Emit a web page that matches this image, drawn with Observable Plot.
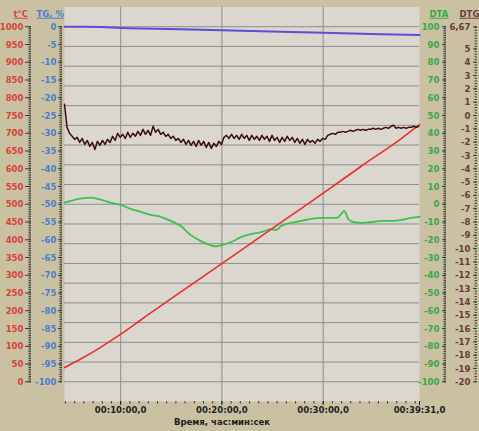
<!DOCTYPE html>
<html><head><meta charset="utf-8">
<script src="https://cdn.jsdelivr.net/npm/d3@7"></script>
<script src="https://cdn.jsdelivr.net/npm/@observablehq/plot@0.6"></script>
<style>body{margin:0;background:#cac1a3;}</style>
</head><body><div id="chart"></div>
<script>
// ---- tick labels ----
const tempTicks = [1000,950,900,850,800,750,700,650,600,550,500,450,400,350,300,250,200,150,100,50,0];
const tgTicks = [0,-5,-10,-15,-20,-25,-30,-35,-40,-45,-50,-55,-60,-65,-70,-75,-80,-85,-90,-95,-100];
const dtaTicks = [100,90,80,70,60,50,40,30,20,10,0,-10,-20,-30,-40,-50,-60,-70,-80,-90,-100];
const dtgTicks = [6.67,5,4,3,2,1,0,-1,-2,-3,-4,-5,-6,-7,-8,-9,-10,-11,-12,-13,-14,-15,-16,-17,-18,-19,-20];
const timeTicks = [10, 20, 30, 39 + 31/60]; // minutes
const timeGrid = [10, 20, 30];

// ---- series (time in minutes) ----
const tempTime  = [4.45, 6.04, 8.02, 10.0, 11.98, 13.96, 17.92, 21.88, 25.84, 29.8, 33.76, 37.72, 39.52];
const tempValue = [40, 64, 97, 134, 174, 214, 292, 370, 449, 527, 607, 685, 724];

const tgTime  = [4.45, 6.5, 8.02, 10.7, 15.95, 20.0, 25.85, 30.0, 35.75, 39.52];
const tgValue = [0, 0, -0.1, -0.4, -0.7, -1.0, -1.4, -1.7, -2.1, -2.3];

const dtaTime  = [4.45,5.54,7.03,8.02,9.01,10.0,10.99,11.98,12.97,13.96,14.95,15.94,16.93,17.92,18.91,19.41,19.9,20.89,21.88,22.87,23.86,24.85,25.35,25.84,26.83,27.82,28.81,29.8,30.79,31.39,31.78,32.08,32.48,32.97,33.76,34.75,35.74,36.73,37.72,38.71,39.52];
const dtaValue = [0.9,2.6,3.7,2.6,0.9,-0.3,-2.6,-4.3,-6.0,-7.1,-9.4,-12.3,-17.4,-20.8,-23.1,-23.7,-23.1,-21.4,-18.5,-16.8,-15.7,-14.0,-14.5,-12.3,-10.5,-9.4,-8.3,-7.7,-7.7,-7.7,-5.4,-3.7,-8.3,-10.0,-10.5,-10.0,-9.4,-9.4,-8.8,-7.7,-7.1];

const dtgStart = 4.45, dtgStep = 0.25;
const dtgValue = [0.85,-0.89,-1.34,-1.56,-1.79,-1.64,-2.02,-1.72,-2.17,-1.87,
-2.32,-2.02,-2.55,-1.94,-2.24,-1.87,-2.17,-1.79,-2.02,-1.56,
-1.87,-1.34,-1.64,-1.41,-1.72,-1.26,-1.64,-1.34,-1.56,-1.19,
-1.49,-1.04,-1.41,-1.11,-1.49,-0.81,-1.26,-1.04,-1.41,-1.26,
-1.56,-1.41,-1.72,-1.56,-1.87,-1.72,-2.02,-1.79,-2.17,-1.87,
-2.24,-1.94,-2.32,-1.87,-2.24,-1.94,-2.40,-2.02,-2.47,-2.09,
-2.32,-1.94,-2.17,-1.64,-1.49,-1.72,-1.41,-1.72,-1.49,-1.79,
-1.41,-1.72,-1.49,-1.87,-1.49,-1.79,-1.56,-1.87,-1.49,-1.79,
-1.56,-1.94,-1.49,-1.87,-1.64,-2.02,-1.64,-1.94,-1.56,-1.87,
-1.64,-2.02,-1.72,-2.09,-1.79,-2.17,-1.79,-2.02,-1.87,-2.09,
-1.79,-1.94,-1.72,-1.79,-1.49,-1.41,-1.34,-1.41,-1.26,-1.26,
-1.19,-1.26,-1.19,-1.11,-1.19,-1.11,-1.04,-1.11,-1.04,-1.11,
-1.04,-1.04,-0.96,-1.04,-0.96,-1.04,-0.96,-0.89,-0.96,-0.81,
-0.73,-0.96,-0.89,-0.96,-0.89,-0.96,-0.89,-0.89,-0.81,-0.89,
-0.81];

// ---- mapping of secondary axes onto the °C scale ----
const fromTG  = v => (v + 100) * 10;
const fromDTA = v => (v + 100) * 5;
const fromDTG = v => (v + 20) * 1000 / 26.67;

const X0 = 4.45, X1 = 39 + 31/60;
const tempData = tempTime.map((t, i) => ({t, v: tempValue[i]}));
const tgData = tgTime.map((t, i) => ({t, v: fromTG(tgValue[i])}));
const dtaData = dtaTime.map((t, i) => ({t, v: fromDTA(dtaValue[i])}));
const dtgData = dtgValue.map((v, i) => ({t: Math.min(X1, dtgStart + i * dtgStep), v: fromDTG(v)}));

const gridVals = d3.range(0, 19).map(k => k * 1000 / 18);
const xMinor = d3.range(10 - 6 * 10/11, X1, 10/11).filter(m => m >= X0);
const tempMinor = d3.range(0, 1001, 5);
const tgMinor = d3.range(-100, 0.1, 0.5).map(fromTG);
const dtaMinor = d3.range(-100, 100.1, 1).map(fromDTA);
const dtgMinor = d3.range(-20, 6.68, 0.2).map(fromDTG);

const fmtTime = m => {
  const s = Math.round(m * 60);
  const mm = String(Math.floor(s / 60)).padStart(2, "0");
  const ss = String(s % 60).padStart(2, "0");
  return `00:${mm}:${ss},0`;
};
const hy = v => String(v).replace(".", ",");

const RED = "#d9433a", BLUE = "#4a7cd0", GREEN = "#38a843", BROWN = "#6e3a3a", TICK = "#3a3a3a";

function yAxis(values, minor, fmt, color, dx, pad, major) {
  return [
    Plot.axisY(minor, {anchor: "left", label: null, dx, tickSize: 2.5, tickFormat: () => "", color: TICK}),
    Plot.axisY(values, {anchor: "left", label: null, dx, tickSize: major, tickFormat: () => "", color: TICK}),
    Plot.axisY(values, {anchor: "left", label: null, dx, tickSize: 0, tickPadding: pad, tickFormat: fmt, color})
  ];
}

const plot = Plot.plot({
  width: 479, height: 431,
  marginLeft: 64, marginRight: 60, marginTop: 6.5, marginBottom: 30,
  x: {domain: [X0, X1], axis: null, label: null},
  y: {domain: [-1000/18, 1000 + 1000/18], axis: null, label: null},
  style: {background: "#cac1a3", fontFamily: "'Liberation Sans Narrow','DejaVu Sans Condensed',sans-serif", fontSize: "9.5px", fontWeight: "bold", overflow: "visible"},
  marks: [
    Plot.frame({fill: "#dbd6ce", stroke: null}),
    Plot.ruleY(gridVals, {stroke: "#8e8e8e", strokeWidth: 1}),
    Plot.ruleX(timeGrid, {stroke: "#8e8e8e", strokeWidth: 1}),
    ...yAxis(tempTicks, tempMinor, d => String(d), RED, -33, 8, 6),
    ...yAxis(tgTicks.map(fromTG), tgMinor, d => hy(Math.round(d / 10 - 100)), BLUE, -2, 6, 4),
    ...yAxis(dtaTicks.map(fromDTA), dtaMinor, d => hy(Math.round(d / 5 - 100)), GREEN, 382, 7, 4),
    ...yAxis(dtgTicks.map(fromDTG), dtgMinor, d => hy(Math.round((d * 26.67 / 1000 - 20) * 100) / 100), BROWN, 413, 7, 4),
    Plot.axisX(xMinor, {anchor: "bottom", label: null, tickSize: 2.5, tickFormat: () => "", color: TICK}),
    Plot.axisX(timeTicks, {anchor: "bottom", label: null, tickSize: 4, tickPadding: 1, tickFormat: fmtTime, color: "#1e1e1e"}),
    Plot.text(["Время, час:мин:сек"], {frameAnchor: "bottom", dx: -20, dy: 23, fill: "#1e1e1e"}),
    Plot.text(["t°C"], {frameAnchor: "top-left", dx: -51, dy: 3, textAnchor: "start", fill: RED}),
    Plot.text(["TG, %"], {frameAnchor: "top-left", dx: -28, dy: 3, textAnchor: "start", fill: BLUE}),
    Plot.text(["DTA"], {frameAnchor: "top-right", dx: 10, dy: 3, textAnchor: "start", fill: GREEN}),
    Plot.text(["DTG"], {frameAnchor: "top-right", dx: 40, dy: 3, textAnchor: "start", fill: BROWN}),
    Plot.line(tgData, {x: "t", y: "v", stroke: "#5a4fd6", strokeWidth: 2}),
    Plot.line(dtaData, {x: "t", y: "v", stroke: "#3cc24e", strokeWidth: 1.8, curve: "monotone-x"}),
    Plot.line(tempData, {x: "t", y: "v", stroke: "#e8302a", strokeWidth: 1.6, curve: "monotone-x"}),
    Plot.line(dtgData, {x: "t", y: "v", stroke: "#3b0c18", strokeWidth: 1.5})
  ]
});
document.getElementById("chart").appendChild(plot);
d3.select(plot).selectAll("text").filter(function() {
  return ["t°C", "TG, %", "DTA", "DTG"].includes(this.textContent);
}).attr("text-decoration", "underline");
</script>
</body></html>
